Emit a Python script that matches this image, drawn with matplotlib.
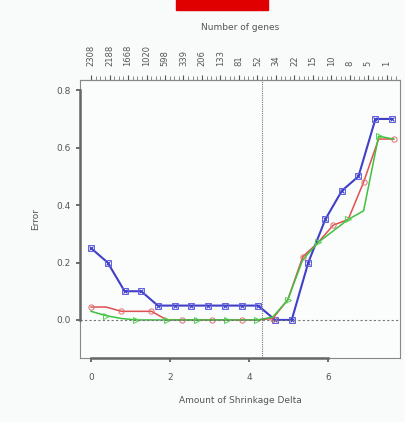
import numpy as np
import matplotlib
matplotlib.use("Agg")
import matplotlib.pyplot as plt
from matplotlib.patches import Rectangle

# shrinkage thresholds and CV error curves
delta_blue = [0, 0.42, 0.85, 1.27, 1.69, 2.12, 2.54, 2.96, 3.39, 3.81,
              4.23, 4.66, 5.08, 5.50, 5.93, 6.35, 6.77, 7.20, 7.62]
err_blue = [0.25, 0.20, 0.10, 0.10, 0.05, 0.05, 0.05, 0.05, 0.05, 0.05,
            0.05, 0.0, 0.0, 0.20, 0.35, 0.45, 0.50, 0.70, 0.70]

delta_rg = [0, 0.38, 0.77, 1.15, 1.53, 1.92, 2.30, 2.68, 3.06, 3.45, 3.83,
            4.21, 4.60, 4.98, 5.36, 5.75, 6.13, 6.51, 6.90, 7.28, 7.66]
err_red = [0.045, 0.045, 0.03, 0.03, 0.03, 0.0, 0.0, 0.0, 0.0, 0.0, 0.0,
           0.0, 0.005, 0.07, 0.22, 0.27, 0.33, 0.35, 0.48, 0.63, 0.63]
err_green = [0.03, 0.015, 0.005, 0.0, 0.0, 0.0, 0.0, 0.0, 0.0, 0.0, 0.0,
             0.0, 0.01, 0.07, 0.21, 0.27, 0.31, 0.35, 0.38, 0.64, 0.63]

# top axis: number of genes
gene_pos = [0, 0.468, 0.936, 1.404, 1.872, 2.34, 2.808, 3.276, 3.744, 4.212,
            4.68, 5.148, 5.616, 6.084, 6.552, 7.02, 7.488]
gene_labels = ["2308", "2188", "1668", "1020", "598", "339", "206", "133",
               "81", "52", "34", "22", "15", "10", "8", "5", "1"]

best_delta = 4.33

fig = plt.figure(figsize=(4.05, 4.22), dpi=100, facecolor="#f9fafa")
ax = fig.add_axes([0.1975, 0.152, 0.79, 0.658])
ax.set_facecolor("#fbfcfc")

ax.plot(delta_blue, err_blue, color="#3f3fc8", lw=1.5, marker="s", ms=4.2,
        mfc="none", mec="#6060e0", mew=0.7)
ax.plot(delta_blue, err_blue, ls="none", marker="x", ms=3.5, mec="#3f3fc8", mew=0.8)
ax.plot(delta_rg, err_red, color="#e05050", lw=1.1, marker="o", ms=3.8,
        mfc="none", mec="#e07070", mew=0.7, markevery=2)
ax.plot(delta_rg, err_green, color="#40c040", lw=1.1, marker=">", ms=3.8,
        mfc="none", mec="#50d050", mew=0.7, markevery=(1, 2))

ax.axhline(0, color="#777777", lw=0.8, ls=(0, (2, 2)))
ax.axvline(best_delta, color="#777777", lw=0.8, ls=(0, (1, 1)))

ax.set_xlim(-0.28, 7.82)
ax.set_ylim(-0.132, 0.835)
ax.set_xticks([0, 2, 4, 6])
ax.set_yticks([0.0, 0.2, 0.4, 0.6, 0.8])
ax.set_yticklabels(["0.0", "0.2", "0.4", "0.6", "0.8"])
ax.tick_params(labelsize=6.5, colors="#555555", length=3, width=1.2)
ax.tick_params(axis="x", pad=8)
for s in ax.spines.values():
    s.set_color("#888888")
    s.set_linewidth(0.8)
ax.spines["left"].set_bounds(0, 0.8)
ax.spines["left"].set_linewidth(1.8)
ax.spines["left"].set_color("#666666")
ax.spines["bottom"].set_bounds(0, 6)
ax.spines["bottom"].set_linewidth(1.8)
ax.spines["bottom"].set_color("#666666")
ax.plot([-0.28, -0.28], [-0.132, 0.835], color="#888888", lw=0.8, clip_on=False)
ax.plot([-0.28, 7.82], [-0.132, -0.132], color="#888888", lw=0.8, clip_on=False)

ax.set_xlabel("Amount of Shrinkage Delta", fontsize=6.5, color="#555555", labelpad=10)
ax.set_ylabel("Error", fontsize=6.5, color="#555555", labelpad=12)

top = ax.secondary_xaxis("top")
top.set_xticks(gene_pos)
top.set_xticklabels(gene_labels, rotation=90, fontsize=6, color="#555555")
top.set_xticks(np.arange(0, 7.75, 0.117), minor=True)
top.tick_params(which="major", length=3.5, width=0.8, colors="#555555", pad=7)
top.tick_params(which="minor", length=3, width=0.6, colors="#777777")
top.spines["top"].set_color("#888888")
top.set_xlabel("Number of genes", fontsize=6.5, color="#555555", labelpad=10)

fig.patches.append(Rectangle((176 / 405, 1 - 10 / 422), 92 / 405, 10 / 422,
                             transform=fig.transFigure, color="#e00000"))

fig.savefig("out.png", dpi=100, facecolor=fig.get_facecolor())
